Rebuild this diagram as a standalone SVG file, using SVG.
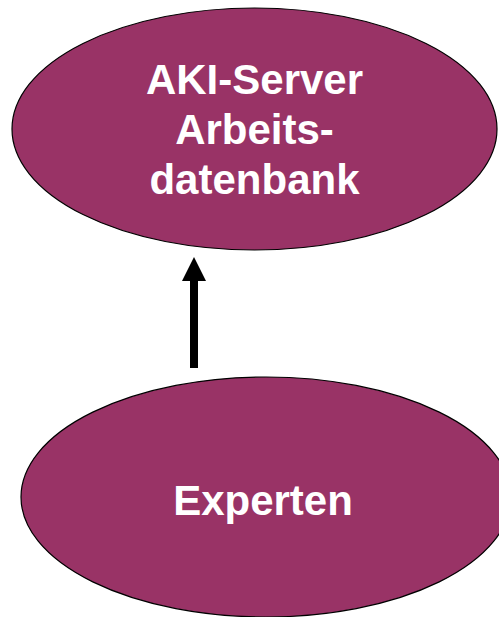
<svg xmlns="http://www.w3.org/2000/svg" width="499" height="617" viewBox="0 0 499 617">
<style>
.node{fill:#993366;stroke:#000;stroke-width:1.2}
.lbl{fill:#fff;font-family:"Liberation Sans",Arial,sans-serif;font-weight:bold;font-size:42px;text-anchor:middle}
</style>
<rect width="499" height="617" fill="#fff"/>
<g id="connectors">
<rect x="190" y="280" width="8" height="88" fill="#000"/>
<polygon points="194,257 182,281 206,281" fill="#000"/>
</g>
<g id="node-server">
<ellipse class="node" cx="254.5" cy="129" rx="242.5" ry="121"/>
<text class="lbl" x="254.5" y="94">AKI-Server</text>
<text class="lbl" x="254.5" y="144">Arbeits-</text>
<text class="lbl" x="254.5" y="194">datenbank</text>
</g>
<g id="node-experten">
<ellipse class="node" cx="266" cy="497" rx="245" ry="120"/>
<text class="lbl" x="263" y="515">Experten</text>
</g>
</svg>
